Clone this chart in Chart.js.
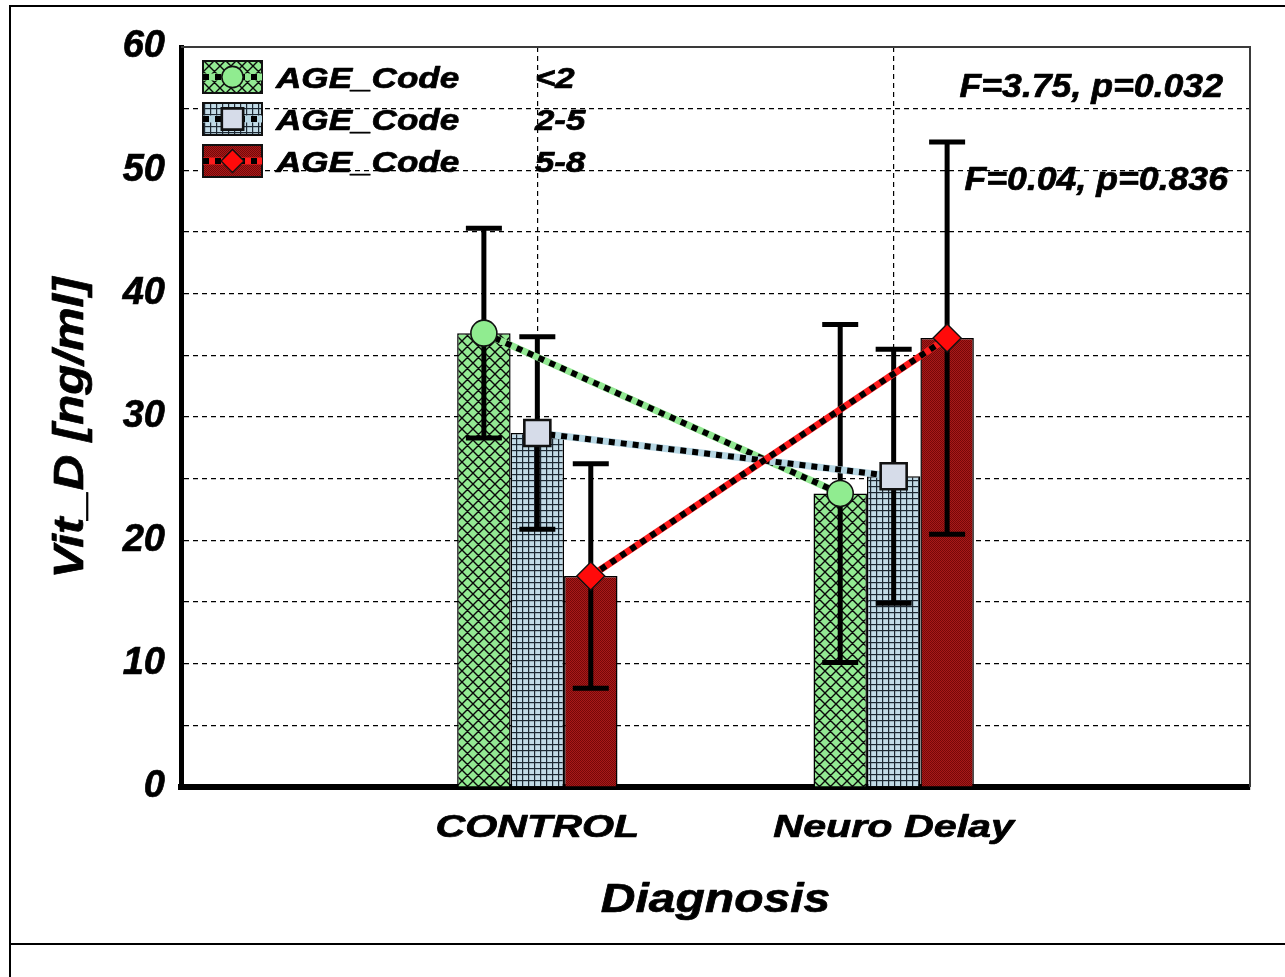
<!DOCTYPE html>
<html>
<head>
<meta charset="utf-8">
<title>Vit_D by Diagnosis and AGE_Code</title>
<script src="https://cdn.jsdelivr.net/npm/chart.js@4.4.1/dist/chart.umd.min.js"></script>
<style>
  html, body { margin: 0; padding: 0; background: #fff; }
  #wrap { position: relative; width: 1285px; height: 977px; overflow: hidden; }
  #frame { position: absolute; left: 9px; top: 5px; width: 1300px; height: 936px;
           border-top: 2px solid #000; border-left: 2px solid #000; border-bottom: 2px solid #000; }
  #frameTail { position: absolute; left: 9px; top: 944px; width: 2px; height: 40px; background: #000; }
  canvas { position: absolute; left: 0; top: 0; }
</style>
</head>
<body>
<div id="wrap">
  <div id="frame"></div>
  <div id="frameTail"></div>
  <canvas id="c" width="1285" height="977"></canvas>
</div>
<script>
// ---- data ----
const categories = ['CONTROL', 'Neuro Delay'];
const ageGroups = ['<2', '2-5', '5-8'];
const legendPrefix = 'AGE_Code';
const meansUnder2 = [36.8, 23.8];
const means2to5 = [28.7, 25.2];
const means5to8 = [17.1, 36.4];
const errUnder2 = [8.5, 13.7];
const err2to5 = [7.8, 10.3];
const err5to8 = [9.1, 15.9];
const yMin = 0, yMax = 60, yStep = 5, yLabelEvery = 10;
const fTests = ['F=3.75, p=0.032', 'F=0.04, p=0.836'];
const xTitle = 'Diagnosis';
const yTitle = 'Vit_D [ng/ml]';

const FONT = '"Liberation Sans", Arial, sans-serif';
const canvas = document.getElementById('c');
const mainCtx = canvas.getContext('2d');

// ---- hatch fills ----
function makePattern(size, paint) {
  const tile = document.createElement('canvas');
  tile.width = tile.height = size;
  paint(tile.getContext('2d'), size);
  return mainCtx.createPattern(tile, 'repeat');
}
const crossHatchGreen = makePattern(11, (g, s) => {
  g.fillStyle = '#93ea93'; g.fillRect(0, 0, s, s);
  g.strokeStyle = '#0a0a0a'; g.lineWidth = 1.4;
  g.beginPath();
  for (const d of [-s, 0, s]) {
    g.moveTo(d, 0); g.lineTo(d + s, s);
    g.moveTo(d + s, 0); g.lineTo(d, s);
  }
  g.stroke();
});
const gridBlue = makePattern(6, (g, s) => {
  g.fillStyle = '#c2dbe7'; g.fillRect(0, 0, s, s);
  g.fillStyle = '#1d2833';
  g.fillRect(0, 0, s, 1.2); g.fillRect(0, 0, 1.2, s);
});
const dotsRed = makePattern(2, (g) => {
  g.fillStyle = '#a81a1a'; g.fillRect(0, 0, 2, 2);
  g.fillStyle = '#760808'; g.fillRect(0, 0, 1, 1); g.fillRect(1, 1, 1, 1);
});

const series = [
  { group: ageGroups[0], means: meansUnder2, err: errUnder2, fill: crossHatchGreen, lineColor: '#92e892', marker: 'circle', markerFill: '#90ec90' },
  { group: ageGroups[1], means: means2to5, err: err2to5, fill: gridBlue, lineColor: '#b6d6e3', marker: 'square', markerFill: '#d6dce9' },
  { group: ageGroups[2], means: means5to8, err: err5to8, fill: dotsRed, lineColor: '#ff1c1c', marker: 'diamond', markerFill: '#ff0a0a' }
];

// blank slots either side put the two groups at 1/3 and 2/3 of the axis
const axisLabels = ['', ...categories, ''];
const padded = arr => [null, ...arr, null];

// ---- drawing helpers ----
function drawMarker(ctx, kind, x, y, fill, k) {
  ctx.save();
  ctx.fillStyle = fill;
  ctx.strokeStyle = '#111';
  ctx.beginPath();
  if (kind === 'circle') {
    ctx.lineWidth = 1.6;
    ctx.arc(x, y, 13 * k, 0, Math.PI * 2);
  } else if (kind === 'square') {
    ctx.lineWidth = 2.6;
    const h = 13 * k;
    ctx.rect(x - h, y - h, 2 * h, 2 * h);
  } else {
    ctx.lineWidth = 1.4;
    const r = 14 * k;
    ctx.moveTo(x, y - r); ctx.lineTo(x + r, y); ctx.lineTo(x, y + r); ctx.lineTo(x - r, y);
    ctx.closePath();
  }
  ctx.fill();
  ctx.stroke();
  ctx.restore();
}

function drawDashedLink(ctx, x1, y1, x2, y2, color) {
  ctx.save();
  ctx.lineCap = 'butt';
  ctx.strokeStyle = color;
  ctx.lineWidth = 7;
  ctx.beginPath(); ctx.moveTo(x1, y1); ctx.lineTo(x2, y2); ctx.stroke();
  ctx.strokeStyle = '#000';
  ctx.lineWidth = 6;
  ctx.setLineDash([6, 6]);
  ctx.beginPath(); ctx.moveTo(x1, y1); ctx.lineTo(x2, y2); ctx.stroke();
  ctx.restore();
}

function stretchedText(ctx, text, x, y, size, sx, align, angle) {
  ctx.save();
  ctx.font = `italic bold ${size}px ${FONT}`;
  ctx.fillStyle = '#000';
  ctx.strokeStyle = '#000';
  ctx.lineWidth = 0.7;
  ctx.lineJoin = 'round';
  ctx.textBaseline = 'alphabetic';
  ctx.textAlign = align;
  ctx.translate(x, y);
  if (angle) ctx.rotate(angle);
  ctx.scale(sx, 1);
  ctx.fillText(text, 0, 0);
  ctx.strokeText(text, 0, 0);
  ctx.restore();
}

// ---- overlay: error bars, mean links, markers, legend, notes, axis texts ----
const overlay = {
  id: 'overlay',
  afterDatasetsDraw(chart) {
    const { ctx, chartArea: area, scales: { y } } = chart;

    // plot frame (top and right)
    ctx.save();
    ctx.strokeStyle = '#3a3a3a';
    ctx.lineWidth = 2;
    ctx.beginPath();
    ctx.moveTo(area.left, area.top); ctx.lineTo(area.right, area.top); ctx.lineTo(area.right, area.bottom);
    ctx.stroke();
    ctx.restore();

    // error bars
    series.forEach((s, di) => {
      const meta = chart.getDatasetMeta(di);
      s.means.forEach((m, j) => {
        const bar = meta.data[j + 1];
        const yHi = y.getPixelForValue(m + s.err[j]);
        const yLo = y.getPixelForValue(m - s.err[j]);
        ctx.save();
        ctx.strokeStyle = '#000';
        ctx.lineWidth = 5;
        ctx.beginPath();
        ctx.moveTo(bar.x, yHi); ctx.lineTo(bar.x, yLo);
        ctx.moveTo(bar.x - 18, yHi); ctx.lineTo(bar.x + 18, yHi);
        ctx.moveTo(bar.x - 18, yLo); ctx.lineTo(bar.x + 18, yLo);
        ctx.stroke();
        ctx.restore();
      });
    });

    // lines joining each age group's means across diagnoses
    series.forEach((s, di) => {
      const meta = chart.getDatasetMeta(di);
      const a = meta.data[1], b = meta.data[2];
      drawDashedLink(ctx, a.x, y.getPixelForValue(s.means[0]), b.x, y.getPixelForValue(s.means[1]), s.lineColor);
    });

    // mean markers
    series.forEach((s, di) => {
      const meta = chart.getDatasetMeta(di);
      s.means.forEach((m, j) => {
        drawMarker(ctx, s.marker, meta.data[j + 1].x, y.getPixelForValue(m), s.markerFill, 1);
      });
    });

    // legend
    series.forEach((s, i) => {
      const cy = area.top + 30 + i * 42;
      const bx = area.left + 22, bw = 59, bh = 32;
      ctx.save();
      ctx.fillStyle = s.fill;
      ctx.fillRect(bx, cy - bh / 2, bw, bh);
      ctx.strokeStyle = '#111';
      ctx.lineWidth = 2;
      ctx.strokeRect(bx, cy - bh / 2, bw, bh);
      ctx.restore();
      drawDashedLink(ctx, bx, cy, bx + bw, cy, s.lineColor);
      drawMarker(ctx, s.marker, bx + bw / 2, cy, s.markerFill, 0.82);
      stretchedText(ctx, legendPrefix, area.left + 95, cy + 11, 29, 1.21, 'left');
      stretchedText(ctx, s.group, area.left + 354, cy + 11, 29, 1.2, 'left');
    });

    // F-test notes
    stretchedText(ctx, fTests[0], area.right - 27, area.top + 50, 33, 1.08, 'right');
    stretchedText(ctx, fTests[1], area.right - 22, area.top + 143, 33, 1.08, 'right');
  },
  afterDraw(chart) {
    const { ctx, chartArea: area, scales: { x } } = chart;
    categories.forEach((c, i) => {
      stretchedText(ctx, c, x.getPixelForValue(i + 1), area.bottom + 50, 31, 1.33, 'center');
    });
    stretchedText(ctx, xTitle, (area.left + area.right) / 2, area.bottom + 125, 40, 1.2, 'center');
    stretchedText(ctx, yTitle, 83, (area.top + area.bottom) / 2 + 11, 42, 1.17, 'center', -Math.PI / 2);
  }
};

new Chart(canvas, {
  type: 'bar',
  data: {
    labels: axisLabels,
    datasets: series.map(s => ({
      label: s.group,
      data: padded(s.means),
      backgroundColor: s.fill,
      borderColor: '#000',
      borderWidth: 1.5,
      categoryPercentage: 0.45,
      barPercentage: 1.0
    }))
  },
  options: {
    responsive: false,
    animation: false,
    devicePixelRatio: 1,
    layout: { padding: { top: 47, right: 35, left: 0, bottom: 0 } },
    plugins: { legend: { display: false }, tooltip: { enabled: false } },
    scales: {
      x: {
        type: 'category',
        offset: false,
        ticks: { display: false },
        grid: {
          offset: false,
          drawTicks: false,
          lineWidth: 1.2,
          color: c => (c.index === 1 || c.index === 2) ? '#000' : 'rgba(0,0,0,0)'
        },
        border: { display: true, color: '#000', width: 6, dash: [5, 4] },
        afterFit(s) { s.height = 190; }
      },
      y: {
        min: yMin,
        max: yMax,
        ticks: {
          stepSize: yStep,
          padding: 16,
          color: '#000',
          textStrokeColor: '#000',
          textStrokeWidth: 0.7,
          font: { family: FONT, size: 38, style: 'italic', weight: 'bold' },
          callback: v => (v % yLabelEvery === 0 ? String(v) : '')
        },
        grid: { drawTicks: false, lineWidth: 1.2, color: '#000' },
        border: { display: true, color: '#000', width: 5, dash: [5, 4] },
        afterFit(s) { s.width = 181; }
      }
    }
  },
  plugins: [overlay]
});
</script>
</body>
</html>
